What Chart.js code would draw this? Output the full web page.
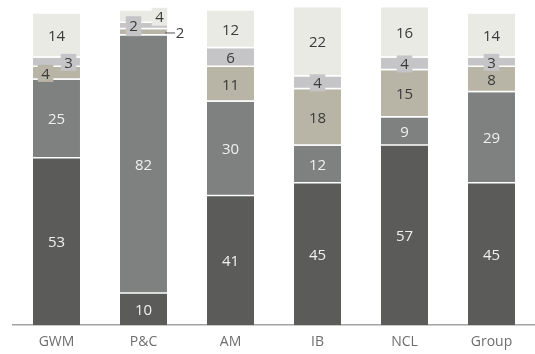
<!DOCTYPE html>
<html>
<head>
<meta charset="utf-8">
<script src="https://cdn.jsdelivr.net/npm/chart.js@4.4.1/dist/chart.umd.min.js"></script>
<style>
  html, body { margin: 0; padding: 0; background: #fff; }
  #wrap { width: 535px; height: 354px; }
</style>
</head>
<body>
<div id="wrap"><canvas id="mix" width="535" height="354"></canvas></div>
<script>
// 各业务板块构成（%），自下而上
const categories = ['GWM', 'P&C', 'AM', 'IB', 'NCL', 'Group'];
const part1 = [53, 10, 41, 45, 57, 45];
const part2 = [25, 82, 30, 12, 9, 29];
const part3 = [4, 2, 11, 18, 15, 8];
const part4 = [3, 2, 6, 4, 4, 3];
const part5 = [14, 4, 12, 22, 16, 14];

const colors = ['#5b5c5a', '#7e817f', '#b9b5a6', '#c5c5c7', '#eaeae5'];

// 小段的标签需要挪位置或加底色
const labelTweaks = {
    'GWM/2': { dx: -11, box: true },
    'GWM/3': { dx: 12, box: true },
    'P&C/2': { outside: true },
    'P&C/3': { dx: -10, box: true, h: 20 },
    'P&C/4': { dx: 16, box: true, h: 18 },
    'IB/3': { box: true },
    'NCL/3': { box: true },
    'Group/3': { box: true }
};

const valueLabels = {
    id: 'valueLabels',
    afterDatasetsDraw(chart) {
        const ctx = chart.ctx;
        ctx.save();
        ctx.font = '15px "Open Sans"';
        ctx.textAlign = 'center';
        ctx.textBaseline = 'middle';

        const items = [];
        chart.data.datasets.forEach((ds, i) => {
            chart.getDatasetMeta(i).data.forEach((bar, j) => {
                const t = labelTweaks[categories[j] + '/' + i] || {};
                const text = String(ds.data[j]);
                let x = bar.x + (t.dx || 0);
                const y = (bar.y + bar.base) / 2;
                if (t.outside) x = bar.x + bar.width / 2 + 13;
                items.push({ text, x, y, t, bar, color: ds.backgroundColor, dark: i < 2 });
            });
        });

        // 先画底色框
        items.forEach(it => {
            if (!it.t.box) return;
            const w = ctx.measureText(it.text).width + 7;
            const h = it.t.h || 17;
            ctx.fillStyle = it.color;
            ctx.fillRect(it.x - w / 2, it.y - h / 2, w, h);
        });

        items.forEach(it => {
            if (it.t.outside) {
                ctx.strokeStyle = '#555';
                ctx.lineWidth = 1;
                ctx.beginPath();
                ctx.moveTo(it.bar.x + it.bar.width / 2 - 2, it.y + 0.5);
                ctx.lineTo(it.x - 5, it.y + 0.5);
                ctx.stroke();
            }
            ctx.fillStyle = it.dark && !it.t.outside ? '#f0f0f0' : '#3a3a3a';
            ctx.fillText(it.text, it.x, it.y + 1);
        });
        ctx.restore();
    }
};

const series = [part1, part2, part3, part4, part5];

new Chart(document.getElementById('mix'), {
    type: 'bar',
    data: {
        labels: categories,
        datasets: series.map((d, i) => ({
            data: d,
            backgroundColor: colors[i],
            borderColor: '#ffffff',
            borderWidth: i === 0 ? 0 : { top: 0, left: 0, right: 0, bottom: 1.5 },
            borderSkipped: false,
            barPercentage: 0.54,
            categoryPercentage: 1
        }))
    },
    options: {
        responsive: false,
        animation: false,
        devicePixelRatio: 1,
        layout: { padding: { left: 13, right: 0, top: 1, bottom: -4 } },
        plugins: {
            legend: { display: false },
            tooltip: { enabled: false }
        },
        scales: {
            x: {
                stacked: true,
                grid: { display: false, drawTicks: false },
                border: { display: true, color: '#a3a3a3', width: 1.5 },
                ticks: {
                    color: '#6e6e6e',
                    padding: 8,
                    font: { size: 14, family: '"Open Sans"' }
                }
            },
            y: {
                stacked: true,
                display: false,
                min: 0,
                max: 103
            }
        }
    },
    plugins: [valueLabels]
});
</script>
</body>
</html>
